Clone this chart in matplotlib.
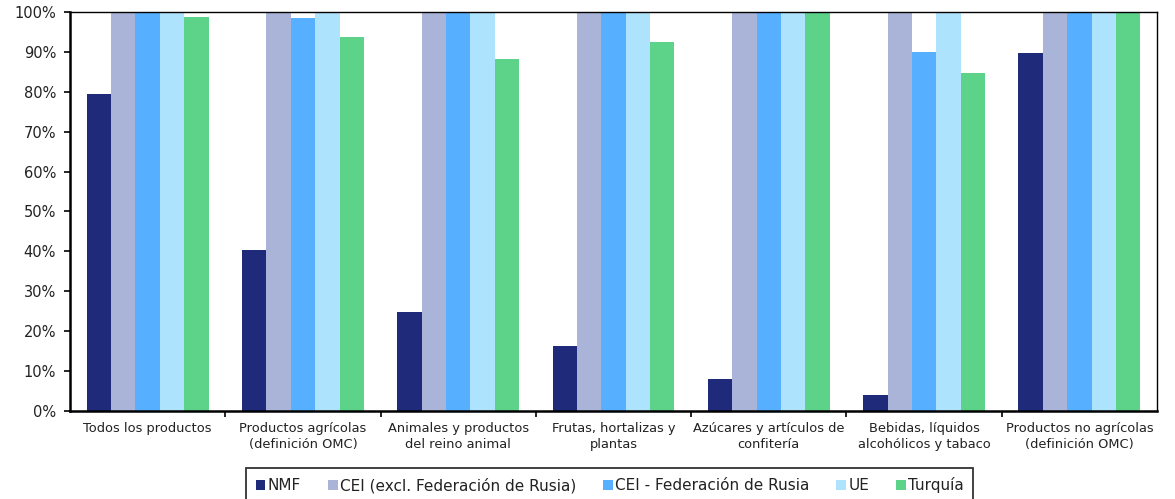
import matplotlib
matplotlib.use("Agg")
import matplotlib.pyplot as plt
import numpy as np
from matplotlib.ticker import FuncFormatter, MultipleLocator

categories = [
    "Todos los productos",
    "Productos agrícolas\n(definición OMC)",
    "Animales y productos\ndel reino animal",
    "Frutas, hortalizas y\nplantas",
    "Azúcares y artículos de\nconfitería",
    "Bebidas, líquidos\nalcohólicos y tabaco",
    "Productos no agrícolas\n(definición OMC)",
]
series_names = ["NMF", "CEI (excl. Federación de Rusia)", "CEI - Federación de Rusia", "UE", "Turquía"]
nmf = [79.5, 40.3, 24.7, 16.4, 8.0, 4.1, 89.6]
cei_excl = [100, 100, 100, 100, 100, 100, 100]
cei_rusia = [100, 98.5, 100, 100, 100, 90.0, 100]
ue = [100, 100, 100, 100, 100, 100, 100]
turquia = [98.8, 93.7, 88.2, 92.5, 100, 84.7, 100]
colors = ["#1F2A7A", "#A9B4D8", "#56B0FF", "#ADE3FD", "#5DD38A"]

plt.rcParams["font.family"] = ["DejaVu Sans"]

fig = plt.figure(figsize=(11.75, 4.99), dpi=100)
ax = fig.add_axes([0.0596, 0.1764, 0.9251, 0.7996])

x = np.arange(len(categories))
width = 0.157
all_series = [nmf, cei_excl, cei_rusia, ue, turquia]
handles = []
for i, (vals, name, col) in enumerate(zip(all_series, series_names, colors)):
    offs = (i - 2) * width
    b = ax.bar(x + offs, vals, width, color=col, label=name, edgecolor="none")
    handles.append(b)

ax.set_xlim(-0.5, len(categories) - 0.5)
ax.set_ylim(0, 100)
ax.yaxis.set_major_locator(MultipleLocator(10))
ax.yaxis.set_major_formatter(FuncFormatter(lambda v, p: f"{int(round(v))}%"))
ax.tick_params(axis="y", labelsize=10.5, direction="out", length=4, width=1.2,
               pad=6, labelcolor="#222222")

ax.set_xticks(x)
ax.set_xticklabels(categories, fontsize=9.4, linespacing=1.3, color="#222222")
ax.tick_params(axis="x", length=0, pad=8)
ax.set_xticks(np.arange(0.5, len(categories) - 0.5, 1), minor=True)
ax.tick_params(axis="x", which="minor", direction="out", length=4, width=1.2)

for s in ["left", "bottom"]:
    ax.spines[s].set_linewidth(1.8)
for s in ["top", "right"]:
    ax.spines[s].set_linewidth(1.0)

leg = fig.legend(handles=handles, labels=series_names, loc="upper center",
                 bbox_to_anchor=(0.519, 0.0621), ncol=5, fontsize=11,
                 frameon=True, fancybox=False, edgecolor="black",
                 handlelength=0.65, handleheight=0.65, handletextpad=0.15,
                 columnspacing=1.75, borderpad=0.6, borderaxespad=0)
leg.get_frame().set_linewidth(1.3)
for t in leg.get_texts():
    t.set_color("#222222")

fig.savefig("out.png", dpi=100)
